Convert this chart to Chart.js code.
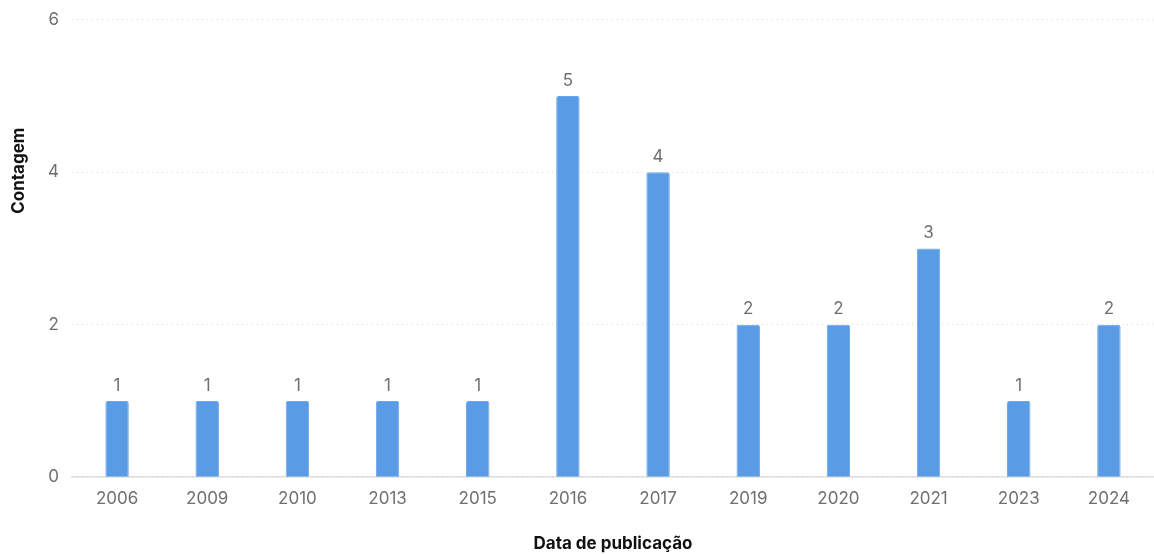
<!DOCTYPE html>
<html>
<head>
<meta charset="utf-8">
<script src="https://cdn.jsdelivr.net/npm/chart.js@4"></script>
<style>
  html, body { margin: 0; padding: 0; background: #fff; }
  #wrap { width: 1154px; height: 554px; }
</style>
</head>
<body>
<div id="wrap"><canvas id="chart"></canvas></div>
<script>
const anos = ['2006', '2009', '2010', '2013', '2015', '2016', '2017', '2019', '2020', '2021', '2023', '2024'];
const contagem = [1, 1, 1, 1, 1, 5, 4, 2, 2, 3, 1, 2];
const yTicks = [0, 2, 4, 6];

const FONT = 'Inter, "Noto Sans", sans-serif';

// valores em cima de cada barra
const rotulos = {
  id: 'rotulos',
  afterDatasetsDraw(chart) {
    const ctx = chart.ctx;
    const meta = chart.getDatasetMeta(0);
    ctx.save();
    ctx.font = '17px ' + FONT;
    ctx.fillStyle = '#6f6f6f';
    ctx.textAlign = 'center';
    ctx.textBaseline = 'bottom';
    meta.data.forEach((bar, i) => {
      ctx.fillText(String(contagem[i]), bar.x, bar.y - 7);
    });
    ctx.restore();
  }
};

// título do eixo y, um pouco acima do centro
const tituloY = {
  id: 'tituloY',
  afterDraw(chart) {
    const ctx = chart.ctx;
    const area = chart.chartArea;
    ctx.save();
    ctx.font = 'bold 17px ' + FONT;
    ctx.fillStyle = '#111';
    ctx.textAlign = 'center';
    ctx.textBaseline = 'middle';
    ctx.translate(19, area.top + area.height * 0.33);
    ctx.rotate(-Math.PI / 2);
    ctx.fillText('Contagem', 0, 0);
    ctx.restore();
  }
};

new Chart(document.getElementById('chart'), {
  type: 'bar',
  data: {
    labels: anos,
    datasets: [{
      data: contagem,
      backgroundColor: '#5a9be6',
      borderColor: '#6aa6ea',
      borderWidth: 1,
      borderRadius: { topLeft: 2, topRight: 2 },
      borderSkipped: 'bottom',
      barPercentage: 0.26,
      categoryPercentage: 1
    }]
  },
  options: {
    responsive: true,
    maintainAspectRatio: false,
    animation: false,
    layout: { padding: { top: 2, left: 35, right: 0, bottom: 0 } },
    plugins: {
      legend: { display: false },
      tooltip: { enabled: false }
    },
    scales: {
      x: {
        grid: { display: false, drawTicks: false },
        border: { display: true, color: '#dedede', width: 1.5 },
        ticks: { color: '#6f6f6f', font: { family: FONT, size: 17 }, padding: 11 },
        title: {
          display: true,
          text: 'Data de publicação',
          color: '#111',
          font: { family: FONT, size: 17, weight: 'bold' },
          padding: { top: 14, bottom: 0 }
        }
      },
      y: {
        min: 0,
        max: 6,
        afterBuildTicks(axis) { axis.ticks = yTicks.map(v => ({ value: v })); },
        grid: { color: '#d9d9d9', drawTicks: false, lineWidth: 1 },
        border: { display: false, dash: [1, 4] },
        ticks: { color: '#6f6f6f', font: { family: FONT, size: 17, lineHeight: 0.8 }, padding: 13 }
      }
    }
  },
  plugins: [rotulos, tituloY]
});
</script>
</body>
</html>
